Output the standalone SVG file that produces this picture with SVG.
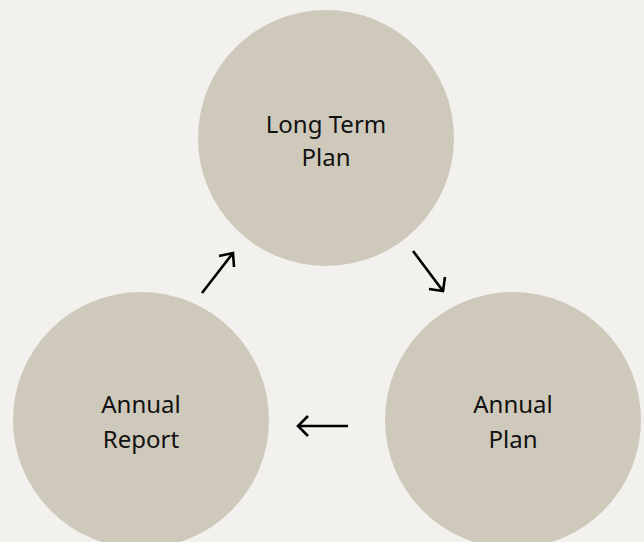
<svg xmlns="http://www.w3.org/2000/svg" width="644" height="542" viewBox="0 0 644 542">
  <defs>
    <style>
      .node { fill: #cfc9bb; }
      .label { font-family: "Noto Sans", "Open Sans", "Liberation Sans", sans-serif; font-size: 24px; fill: #111111; text-anchor: middle; }
      .conn { stroke: #000000; stroke-width: 2.6; fill: none; stroke-linecap: butt; stroke-linejoin: miter; }
    </style>
  </defs>
  <rect width="644" height="542" fill="#f2f1ed"/>

  <g id="long-term-plan">
    <circle class="node" cx="326" cy="138" r="128"/>
    <text class="label" x="326" y="133">Long Term</text>
    <text class="label" x="326" y="166">Plan</text>
  </g>

  <g id="annual-plan">
    <circle class="node" cx="513" cy="420" r="128"/>
    <text class="label" x="513" y="413">Annual</text>
    <text class="label" x="513" y="448">Plan</text>
  </g>

  <g id="annual-report">
    <circle class="node" cx="141" cy="420" r="128"/>
    <text class="label" x="141" y="413">Annual</text>
    <text class="label" x="141" y="448">Report</text>
  </g>

  <g id="connectors">
    <!-- report to long term plan -->
    <path class="conn" d="M202 293 L233 253"/>
    <path class="conn" d="M219 256 L233 253 L234 267"/>
    <!-- long term plan to annual plan -->
    <path class="conn" d="M413 251 L443 291"/>
    <path class="conn" d="M429 289 L443 291 L445 277"/>
    <!-- annual plan to report -->
    <path class="conn" d="M348 426 L298 426"/>
    <path class="conn" d="M308 416 L298 426 L308 436"/>
  </g>
</svg>
